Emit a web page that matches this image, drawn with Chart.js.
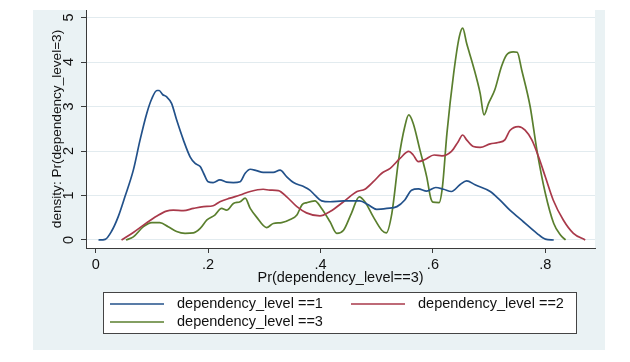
<!DOCTYPE html>
<html><head><meta charset="utf-8">
<script src="https://cdn.jsdelivr.net/npm/chart.js@4.4.1/dist/chart.umd.min.js"></script>
<style>html,body{margin:0;padding:0;background:#fff;}#wrap{width:630px;height:362px;}</style>
</head><body><div id="wrap"><canvas id="c" width="630" height="362"></canvas></div>
<script>
const xTicks = [0, 0.2, 0.4, 0.6, 0.8];
const xTickLabels = ['0', '.2', '.4', '.6', '.8'];
const yTicks = [0, 1, 2, 3, 4, 5];
const yTickLabels = ['0', '1', '2', '3', '4', '5'];
const seriesLabels = ['dependency_level ==1', 'dependency_level ==2', 'dependency_level ==3'];
const xTitle = 'Pr(dependency_level==3)';
const yTitle = 'density: Pr(dependency_level=3)';

const level1X = [0.005,0.017,0.028,0.040,0.052,0.067,0.079,0.091,0.100,0.109,0.113,0.119,0.126,0.135,0.144,0.156,0.168,0.177,0.186,0.192,0.200,0.209,0.221,0.233,0.245,0.257,0.266,0.275,0.286,0.298,0.316,0.328,0.340,0.352,0.370,0.381,0.390,0.402,0.417,0.441,0.470,0.485,0.500,0.518,0.536,0.550,0.562,0.574,0.589,0.605,0.619,0.633,0.648,0.660,0.675,0.702,0.719,0.737,0.761,0.785,0.800,0.815];
const level1Y = [0,0.015,0.19,0.52,0.97,1.57,2.25,2.85,3.18,3.36,3.36,3.27,3.22,3.07,2.70,2.25,1.87,1.72,1.65,1.50,1.31,1.29,1.35,1.30,1.29,1.31,1.50,1.59,1.56,1.52,1.52,1.57,1.42,1.29,1.20,1.12,1.01,0.88,0.86,0.88,0.88,0.79,0.69,0.71,0.75,0.90,1.12,1.15,1.10,1.18,1.14,1.09,1.24,1.33,1.24,1.09,0.90,0.67,0.41,0.15,0.02,0];

const level2X = [0.046,0.067,0.091,0.109,0.126,0.138,0.156,0.174,0.192,0.209,0.221,0.239,0.257,0.275,0.298,0.310,0.325,0.340,0.358,0.375,0.399,0.417,0.441,0.465,0.479,0.494,0.509,0.524,0.542,0.557,0.565,0.574,0.586,0.602,0.616,0.633,0.645,0.653,0.660,0.672,0.684,0.702,0.716,0.728,0.737,0.752,0.764,0.776,0.788,0.800,0.814,0.832,0.850,0.871];
const level2Y = [0,0.17,0.39,0.54,0.65,0.67,0.66,0.71,0.75,0.77,0.86,0.94,1.01,1.09,1.14,1.12,1.11,0.97,0.75,0.61,0.54,0.64,0.86,1.09,1.14,1.31,1.50,1.61,1.84,1.99,1.91,1.76,1.81,1.91,1.89,1.99,2.21,2.36,2.25,2.10,2.08,2.16,2.19,2.25,2.46,2.55,2.47,2.25,1.87,1.42,0.90,0.45,0.15,0];

const level3X = [0.054,0.067,0.085,0.100,0.114,0.129,0.144,0.159,0.174,0.186,0.198,0.212,0.224,0.233,0.245,0.257,0.266,0.275,0.286,0.304,0.316,0.331,0.346,0.358,0.367,0.376,0.390,0.402,0.417,0.429,0.441,0.455,0.469,0.479,0.494,0.509,0.517,0.527,0.539,0.550,0.557,0.565,0.577,0.589,0.596,0.600,0.611,0.617,0.625,0.637,0.647,0.653,0.660,0.672,0.684,0.691,0.699,0.710,0.722,0.731,0.743,0.750,0.758,0.773,0.785,0.800,0.815,0.827,0.836];
const level3Y = [0,0.07,0.30,0.39,0.39,0.30,0.19,0.15,0.16,0.26,0.45,0.56,0.71,0.67,0.82,0.86,0.94,0.71,0.52,0.28,0.37,0.39,0.46,0.56,0.79,0.84,0.88,0.71,0.41,0.15,0.22,0.60,0.97,0.86,0.52,0.22,0.16,0.60,1.80,2.55,2.81,2.62,2.02,1.42,0.95,0.85,0.84,1.20,2.40,3.75,4.57,4.76,4.42,3.90,3.30,2.81,3.07,3.37,3.90,4.16,4.23,4.22,3.82,3.00,2.02,1.05,0.37,0.11,0];

const seriesColors = ['#22518a', '#a9394a', '#5a7f2e'];
const FONT = '"Liberation Sans", Arial, sans-serif';
const FS = 14.5;
const FS_YTITLE = 13.6;
const TEXT = '#111111';
const AXIS = '#3a3a3a';

function pts(xs, ys) { return xs.map((x, i) => ({ x: x, y: ys[i] })); }

const bgPlugin = {
  id: 'bg',
  beforeDraw(chart) {
    const ctx = chart.ctx, a = chart.chartArea;
    ctx.save();
    ctx.fillStyle = '#ffffff';
    ctx.fillRect(0, 0, chart.width, chart.height);
    ctx.fillStyle = '#eaf2f4';
    ctx.fillRect(33, 10, 572, 340);
    ctx.fillStyle = '#ffffff';
    ctx.fillRect(a.left, a.top, a.right - a.left, a.bottom - a.top);
    ctx.restore();
  }
};

const textPlugin = {
  id: 'texts',
  afterDraw(chart) {
    const ctx = chart.ctx, a = chart.chartArea, ys = chart.scales.y;
    ctx.save();
    ctx.fillStyle = TEXT;
    ctx.font = FS + 'px ' + FONT;
    ctx.textAlign = 'center';
    ctx.textBaseline = 'middle';
    // y tick labels, rotated
    yTicks.forEach((v, i) => {
      const py = ys.getPixelForValue(v);
      ctx.save();
      ctx.translate(69, py);
      ctx.rotate(-Math.PI / 2);
      ctx.fillText(yTickLabels[i], 0, 0);
      ctx.restore();
    });
    // y title
    ctx.save();
    ctx.font = FS_YTITLE + 'px ' + FONT;
    ctx.translate(57, (a.top + a.bottom) / 2);
    ctx.rotate(-Math.PI / 2);
    ctx.fillText(yTitle, 0, 0);
    ctx.restore();
    // x title
    ctx.fillText(xTitle, (a.left + a.right) / 2, 278);
    // legend
    ctx.fillStyle = '#ffffff';
    ctx.fillRect(103, 292, 474, 42);
    ctx.strokeStyle = '#444444';
    ctx.lineWidth = 1;
    ctx.strokeRect(103.5, 292.5, 473, 41);
    const entries = [
      { lx: 110, tx: 177, y: 304 },
      { lx: 351, tx: 418, y: 304 },
      { lx: 110, tx: 177, y: 322 }
    ];
    ctx.textAlign = 'left';
    chart.data.datasets.forEach((ds, i) => {
      const e = entries[i];
      ctx.strokeStyle = ds.borderColor;
      ctx.lineWidth = 1.6;
      ctx.beginPath();
      ctx.moveTo(e.lx, e.y);
      ctx.lineTo(e.lx + 54, e.y);
      ctx.stroke();
      ctx.fillStyle = TEXT;
      ctx.fillText(ds.label, e.tx, e.y);
    });
    ctx.restore();
  }
};

new Chart(document.getElementById('c'), {
  type: 'line',
  data: {
    datasets: [
      { label: seriesLabels[0], data: pts(level1X, level1Y), borderColor: seriesColors[0] },
      { label: seriesLabels[1], data: pts(level2X, level2Y), borderColor: seriesColors[1] },
      { label: seriesLabels[2], data: pts(level3X, level3Y), borderColor: seriesColors[2] }
    ].map(d => Object.assign(d, { borderWidth: 1.7, pointRadius: 0, fill: false, cubicInterpolationMode: 'monotone' }))
  },
  options: {
    responsive: false,
    animation: false,
    devicePixelRatio: 1,
    layout: { padding: { left: 0, top: 10, right: 35, bottom: 0 } },
    plugins: { legend: { display: false }, tooltip: { enabled: false }, title: { display: false } },
    scales: {
      x: {
        type: 'linear', min: -0.0172, max: 0.8884,
        afterBuildTicks: s => { s.ticks = xTicks.map(v => ({ value: v })); },
        afterFit: s => { s.height = 114; },
        ticks: {
          autoSkip: false, maxRotation: 0, minRotation: 0, padding: 3,
          color: TEXT, font: { family: FONT, size: FS },
          callback: (v) => xTickLabels[xTicks.indexOf(v)]
        },
        grid: { drawOnChartArea: false, drawTicks: true, tickLength: 5, tickColor: AXIS, tickWidth: 1 },
        border: { color: AXIS, width: 1 }
      },
      y: {
        type: 'linear', min: -0.18, max: 5.169,
        afterBuildTicks: s => { s.ticks = yTicks.map(v => ({ value: v })); },
        afterFit: s => { s.width = 86; },
        ticks: { display: false },
        grid: { color: '#e2ebef', lineWidth: 1, drawTicks: true, tickLength: 5, tickColor: AXIS, tickWidth: 1 },
        border: { color: AXIS, width: 1 }
      }
    }
  },
  plugins: [bgPlugin, textPlugin]
});
</script>
</body></html>
